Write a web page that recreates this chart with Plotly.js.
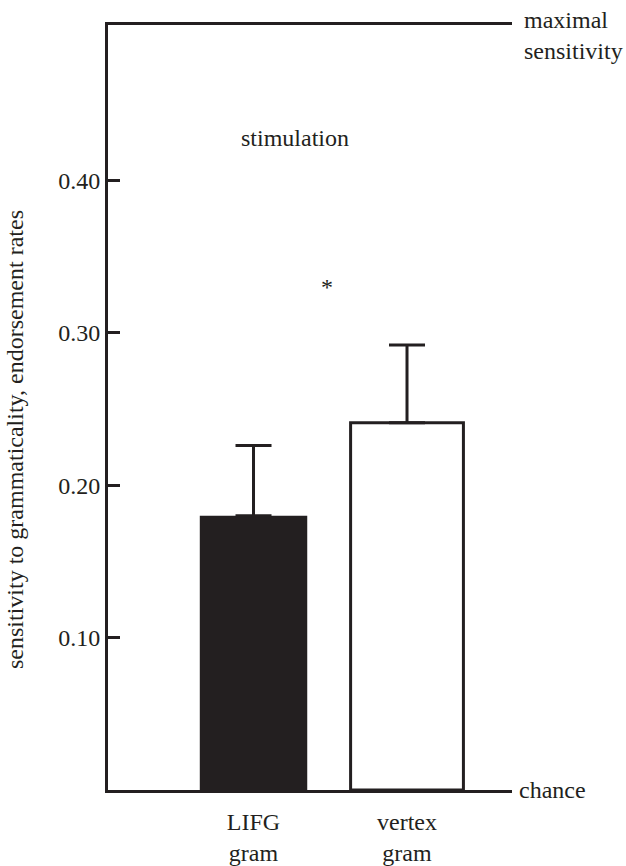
<!DOCTYPE html>
<html>
<head>
<meta charset="utf-8">
<script src="https://cdn.plot.ly/plotly-3.0.1.min.js"></script>
<style>
html,body{margin:0;padding:0;background:#fff;}
#chart{width:626px;height:866px;}
</style>
</head>
<body>
<div id="chart"></div>
<script>
// Data
const categories = ['LIFG<br>gram', 'vertex<br>gram'];
const sensitivity = [0.18, 0.241];
const errorUp = [0.046, 0.051];
const yTickValues = [0.10, 0.20, 0.30, 0.40];
const yTickLabels = ['0.10', '0.20', '0.30', '0.40'];
const yMax = 0.502;

const INK = '#231f20';
function txtFont(sz) { return { family: 'Liberation Serif', size: sz, color: INK }; }

const trace = {
  type: 'bar',
  x: categories,
  y: sensitivity,
  width: [0.70, 0.735],
  marker: {
    color: [INK, '#ffffff'],
    line: { color: INK, width: [0, 3] }
  },
  error_y: {
    type: 'data',
    symmetric: false,
    array: errorUp,
    arrayminus: [0, 0],
    color: INK,
    thickness: 3,
    width: 18
  },
  hoverinfo: 'none'
};

const layout = {
  width: 626,
  height: 866,
  margin: { l: 108, r: 114, t: 25, b: 76 },
  paper_bgcolor: '#ffffff',
  plot_bgcolor: '#ffffff',
  showlegend: false,
  font: txtFont(24),
  xaxis: {
    type: 'category',
    range: [-0.948, 1.684],
    showline: true,
    mirror: true,
    linecolor: INK,
    linewidth: 3,
    ticks: '',
    showgrid: false,
    zeroline: false,
    tickfont: txtFont(24),
    ticklabelstandoff: 8
  },
  yaxis: {
    range: [0, yMax],
    showline: true,
    linecolor: INK,
    linewidth: 3,
    ticks: 'inside',
    ticklen: 12,
    tickwidth: 3,
    tickcolor: INK,
    tickvals: yTickValues,
    ticktext: yTickLabels,
    showgrid: false,
    zeroline: false,
    tickfont: txtFont(24)
  },
  annotations: [
    { text: 'sensitivity to grammaticality, endorsement rates', xref: 'paper', yref: 'paper',
      x: 0, y: 0.4575, xanchor: 'center', yanchor: 'middle', xshift: -93, textangle: -90,
      showarrow: false, font: txtFont(24) },
    { text: 'maximal<br>sensitivity', xref: 'paper', yref: 'y', x: 1, y: yMax,
      xanchor: 'left', yanchor: 'middle', xshift: 10, yshift: -10, align: 'left',
      showarrow: false, font: txtFont(24) },
    { text: 'chance', xref: 'paper', yref: 'y', x: 1, y: 0,
      xanchor: 'left', yanchor: 'middle', xshift: 5, showarrow: false, font: txtFont(24) },
    { text: 'stimulation', xref: 'paper', yref: 'y', x: (295 - 108) / 404, y: 0.428,
      xanchor: 'center', yanchor: 'middle', showarrow: false, font: txtFont(24) },
    { text: '*', xref: 'paper', yref: 'y', x: (327 - 108) / 404, y: 0.33,
      xanchor: 'center', yanchor: 'middle', showarrow: false, font: txtFont(24) }
  ]
};

Plotly.newPlot('chart', [trace], layout, { staticPlot: true, displayModeBar: false }).then(function () {
  document.querySelectorAll('#chart text').forEach(function (t) {
    t.style.setProperty('font-family', "'Liberation Serif', serif", 'important');
    t.setAttribute('font-family', 'Liberation Serif');
  });
});
</script>
</body>
</html>
